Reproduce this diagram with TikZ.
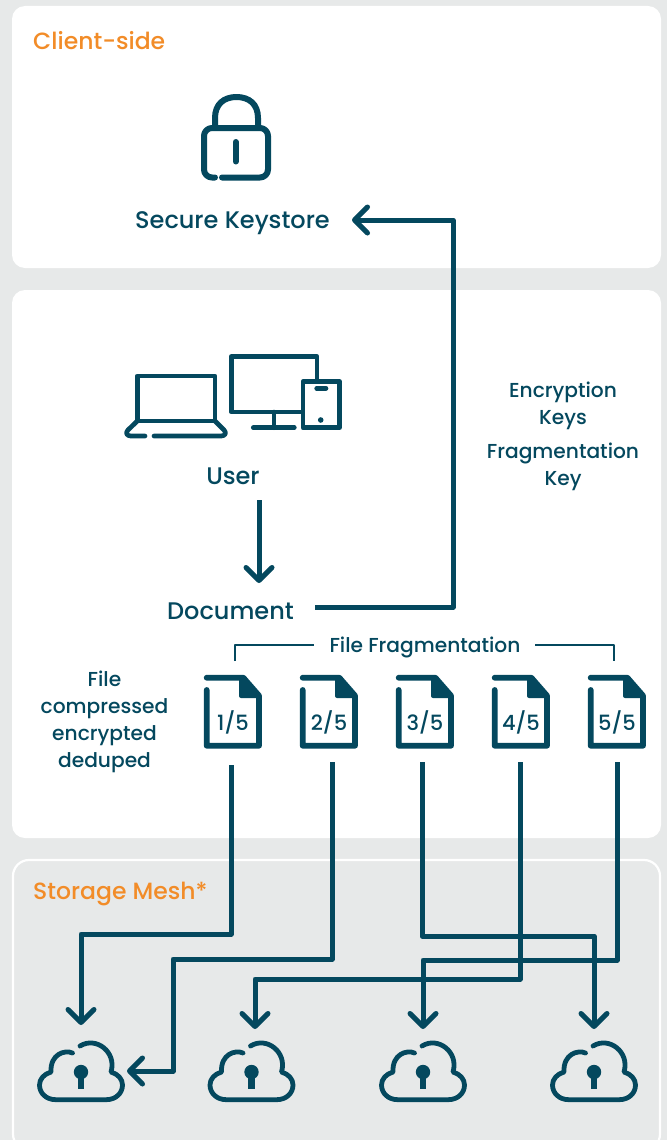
\documentclass[tikz,border=0pt]{standalone}
\usepackage{fontspec}
\setmainfont{Poppins Medium}
\usetikzlibrary{arrows.meta,positioning}
\definecolor{teal}{HTML}{04485E}
\definecolor{panelgrey}{HTML}{E7E9E9}
\definecolor{accent}{HTML}{F28C28}
\tikzset{
  x=1pt,y=-1pt,
  glyph/.style={draw=teal,line width=4.8pt,line cap=round,line join=round},
  wire/.style={draw=teal,line width=5pt,line join=round},
  arrowed/.style={wire,-{Straight Barb[length=13pt,width=26pt,line width=5pt,round]}},
  thinwire/.style={draw=teal,line width=2.8pt,line join=round},
  panel/.style={fill=white,rounded corners=13pt},
  heading/.style={text=accent,font=\fontsize{23.5}{23.5}\selectfont,anchor=west,inner sep=0pt},
  mainlabel/.style={text=teal,font=\fontsize{24}{24}\selectfont,inner sep=0pt},
  sublabel/.style={text=teal,font=\fontsize{20.2}{27}\selectfont,inner sep=0pt,align=center},
  pics/fileicon/.style={code={
    \draw[glyph,line width=5.8pt] (2.7,2.7) -- (39.3,2.7) -- (55,20.7) -- (55,70.7) -- (2.7,70.7) -- (2.7,15);
    \fill[teal,rounded corners=2pt] (35,2.7) -- (39.3,0.5) -- (57,20) -- (57,23) -- (35,23) -- cycle;
    \node[text=teal,font=\fontsize{21}{21}\selectfont,inner sep=0pt] at (29,47.5) {#1};
  }},
  pics/cloudicon/.style={code={
    \draw[glyph] (-8.5,-19) .. controls (-16,-22.5) and (-31,-18) .. (-30,0)
      .. controls (-37,2) and (-41.5,7) .. (-41.5,13)
      .. controls (-41.5,21) and (-35,27.7) .. (-25,27.7) -- (25,27.7)
      .. controls (35,27.7) and (41.5,21) .. (41.5,13)
      .. controls (41.5,7) and (37,2) .. (30,0)
      .. controls (36,-20) and (15,-36) .. (-1,-26);
    \fill[teal] (0,0) circle (7.2pt);
    \draw[teal,line width=6.5pt] (0,0) -- (0,17);
  }},
}
\begin{document}
\begin{tikzpicture}
\useasboundingbox (0,0) rectangle (667,1140);
\fill[panelgrey] (0,0) rectangle (667,1140);
% panels
\fill[panel] (12,6) rectangle (661,268);
\fill[panel] (12,290) rectangle (661,838);
\draw[white,line width=2.2pt,rounded corners=16pt] (13,1150) -- (13,860) -- (660,860) -- (660,1150) -- cycle;
% headings
\node[heading] (client) at (33,41) {Client-side};
\node[heading] (mesh) at (33,893.5) {Storage Mesh*};
% lock
\draw[glyph,line width=6pt] (215,126) -- (215,118) .. controls (215,104) and (224,97) .. (236.5,97) .. controls (249,97) and (258,104) .. (258,118) -- (258,126);
\draw[glyph,line width=6pt,rounded corners=8pt] (215,177.5) -- (204,177.5) -- (204,128) -- (268,128) -- (268,177.5) -- (222,177.5);
\draw[glyph,line width=6pt] (235.7,142) -- (235.7,161.5);
% devices
\draw[glyph,line width=4.7pt] (137.3,421) -- (137.3,376) -- (215,376) -- (215,421) -- cycle;
\draw[glyph,line width=4.7pt] (137.3,421) -- (128,430) .. controls (125,433) and (127,436) .. (131,436) -- (145,436);
\draw[glyph,line width=4.7pt] (154,436) -- (221,436) .. controls (225,436) and (227,433) .. (224,430) -- (215,421);
\draw[glyph,line width=4.7pt] (317,379) -- (317,356.5) -- (231.3,356.5) -- (231.3,412) -- (300.7,412);
\draw[glyph,line width=4.7pt] (274,412) -- (274,427.7);
\draw[glyph,line width=4.7pt] (253.3,427.7) -- (294.3,427.7);
\draw[glyph,line width=4.7pt] (303,381.5) -- (339.5,381.5) -- (339.5,427.7) -- (303,427.7) -- cycle;
\draw[glyph,line width=4.7pt] (316.7,388.3) -- (326,388.3);
\fill[teal] (320.7,420) circle (2.8pt);
% labels
\node[mainlabel] (keystore) at (232.5,223) {Secure Keystore};
\node[mainlabel] (user) at (233,476.5) {User};
\node[mainlabel] (doc) at (230.5,611) {Document};
\node[sublabel] (enc) at (563,405.5) {Encryption\\Keys};
\node[sublabel] (frag) at (563,466.5) {Fragmentation\\Key};
\node[sublabel] (fragtitle) at (425,647.5) {File Fragmentation};
\node[sublabel] (props) at (104.5,721.5) {File\\compressed\\encrypted\\deduped};
% file icons
\foreach \n/\x in {1/204,2/300,3/396,4/492,5/588}
  \pic (file\n) at (\x,675) {fileicon={\n/5}};
\foreach \n/\x in {1/231,2/332,3/422,4/520,5/617}
  \coordinate (out\n) at (\x,762);
\coordinate (out1) at (231,765);
% clouds
\foreach \n/\x in {1/81,2/251.5,3/423,4/594}
  \pic (cloud\n) at (\x,1072) {cloudicon};
% connectors
\coordinate (docout) at (315,607);
\coordinate (keyin) at (352,220);
\coordinate (userout) at (259,500);
\coordinate (docin) at (259,583);
\coordinate (c1in) at (81,1025);
\coordinate (c1side) at (127,1071);
\coordinate (c2in) at (255,1029);
\coordinate (c3in) at (423,1029);
\coordinate (c4in) at (594,1029);
\draw[arrowed] (docout) -- (453,607) -- (453,220) -- (keyin);
\draw[arrowed] (userout) -- (docin);
\draw[arrowed] (out1) -- (231,934) -- (81,934) -- (c1in);
\draw[arrowed] (out2) -- (332,959) -- (173,959) -- (173,1071) -- (c1side);
\draw[arrowed] (out3) -- (422,936) -- (594,936) -- (c4in);
\draw[arrowed] (out4) -- (520,979) -- (255,979) -- (c2in);
\draw[arrowed] (out5) -- (617,960) -- (423,960) -- (c3in);
\draw[thinwire] (235,661) -- (235,645) -- (314,645);
\draw[thinwire] (535,645) -- (614,645) -- (614,661);
\end{tikzpicture}
\end{document}
